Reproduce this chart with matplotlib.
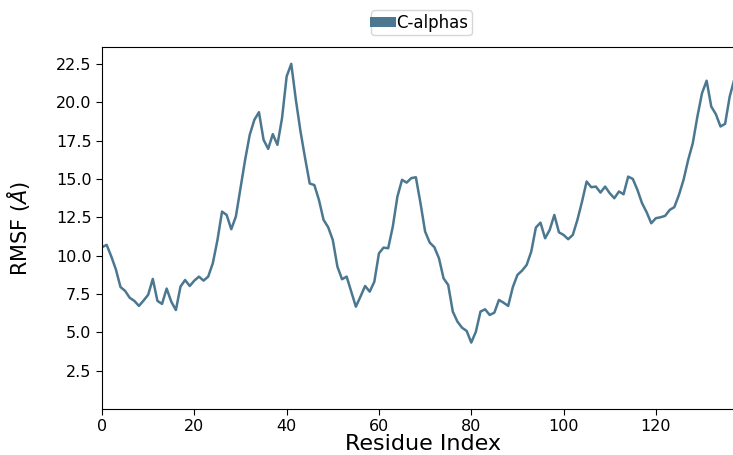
import matplotlib
matplotlib.use('Agg')
import matplotlib.pyplot as plt
import numpy as np

# RMSF per residue
rmsf = [10.55, 10.7, 9.95, 9.1, 7.95, 7.7, 7.25, 7.05, 6.72, 7.07,
        7.45, 8.48, 7.05, 6.85, 7.85, 7.0, 6.45, 7.98, 8.41, 8.02,
        8.37, 8.63, 8.37, 8.63, 9.5, 11.0, 12.87, 12.65, 11.72, 12.55,
        14.4, 16.24, 17.87, 18.85, 19.35, 17.55, 16.96, 17.92, 17.22, 18.96,
        21.68, 22.5, 20.15, 18.1, 16.35, 14.7, 14.6, 13.63, 12.33, 11.85,
        11.02, 9.28, 8.46, 8.63, 7.65, 6.67, 7.33, 8.02, 7.65, 8.3,
        10.15, 10.52, 10.48, 11.89, 13.85, 14.94, 14.76, 15.05, 15.11, 13.42,
        11.57, 10.85, 10.55, 9.83, 8.52, 8.09, 6.35, 5.7, 5.3, 5.09,
        4.33, 5.04, 6.35, 6.5, 6.13, 6.28, 7.11, 6.93, 6.72, 7.94,
        8.74, 9.02, 9.39, 10.26, 11.83, 12.15, 11.13, 11.68, 12.65, 11.52,
        11.35, 11.07, 11.35, 12.33, 13.52, 14.83, 14.46, 14.5, 14.11, 14.5,
        14.07, 13.74, 14.18, 14.0, 15.15, 15.0, 14.29, 13.42, 12.83, 12.11,
        12.44, 12.5, 12.59, 12.98, 13.16, 13.96, 14.94, 16.24, 17.33, 19.07,
        20.59, 21.4, 19.72, 19.22, 18.42, 18.59, 20.37, 21.5]
residues = np.arange(len(rmsf))
label = 'C-alphas'
line_color = '#4b7790'

fig = plt.figure(figsize=(7.33, 4.55), dpi=100)
# axes runs past the right edge, like the cropped original
ax = fig.add_axes([0.1392, 0.1011, 0.8752, 0.7956])
ax.plot(residues, rmsf, color=line_color, lw=1.8, label=label)

ax.set_xlim(0, 139)
ax.set_ylim(0, 23.6)
ax.set_xticks(np.arange(0, 140, 20))
ax.set_yticks(np.arange(2.5, 23, 2.5))
ax.tick_params(labelsize=11.5, length=4)
ax.set_xlabel('Residue Index', fontsize=16, labelpad=0)
ax.set_ylabel(r'RMSF ($\AA$)', fontsize=15, labelpad=17)

leg = fig.legend(loc='center', bbox_to_anchor=(421.5 / 733, 1 - 22.5 / 455),
                 fontsize=12, handlelength=1.0, handletextpad=0.3,
                 borderpad=0.2, fancybox=True)
for ln in leg.get_lines():
    ln.set_linewidth(7.2)

fig.savefig('out.png', dpi=100)
